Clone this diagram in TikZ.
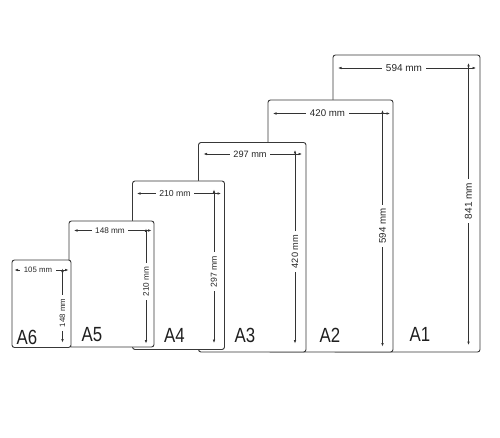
\documentclass[tikz,border=0pt]{standalone}
\usepackage{fontspec}
\setmainfont{Liberation Sans}
\usetikzlibrary{arrows.meta}

\begin{document}
\begin{tikzpicture}[x=1pt,y=-1pt]
    \tikzset{sheet/.style = {draw=black!78,fill=white,line width=0.9pt,rounded corners=2.5pt}}
    \tikzset{dim/.style = {draw=black!80,line width=0.6pt,{Latex[length=3.5pt,width=2.6pt]}-{Latex[length=3.5pt,width=2.6pt]}}}
    \tikzset{dimlabel/.style = {fill=white,inner xsep=3.5pt,inner ysep=0.5pt,text=black!85,font=\fontsize{#1}{#1}\selectfont}}
    \tikzset{sizename/.style = {inner sep=0pt,text=black!88,font=\fontsize{20.5}{20.5}\selectfont}}
    \useasboundingbox (0,0) rectangle (500,438);
    % A1
    \draw[sheet] (333,55) rectangle (480,352);
    \draw[dim] (338,68) -- (476,68);
    \draw[dim] (468.5,63) -- (468.5,345);
    \node[dimlabel=10] (a1w) at (404,68) {594 mm};
    \node[dimlabel=10,rotate=90] (a1h) at (468.5,201) {841 mm};
    \node[sizename] (a1) at (420,334) {\scalebox{0.82}[1]{A1}};
    % A2
    \draw[sheet] (268,100) rectangle (393,352);
    \draw[dim] (273,113.5) -- (390,113.5);
    \draw[dim] (382.5,110) -- (382.5,346.5);
    \node[dimlabel=9.7] (a2w) at (327.5,113.5) {420 mm};
    \node[dimlabel=9.7,rotate=90] (a2h) at (382.5,226) {594 mm};
    \node[sizename] (a2) at (330,335) {\scalebox{0.82}[1]{A2}};
    % A3
    \draw[sheet] (198.5,142.5) rectangle (306,352);
    \draw[dim] (203.5,154) -- (302,154);
    \draw[dim] (295,150) -- (295,343.5);
    \node[dimlabel=9.2] (a3w) at (250,154) {297 mm};
    \node[dimlabel=9.2,rotate=90] (a3h) at (295,251.5) {420 mm};
    \node[sizename] (a3) at (245,335.5) {\scalebox{0.82}[1]{A3}};
    % A4
    \draw[sheet] (132.5,181) rectangle (224.5,349.5);
    \draw[dim] (137,193.5) -- (221,193.5);
    \draw[dim] (214,189.5) -- (214,343);
    \node[dimlabel=8.7] (a4w) at (175,193.5) {210 mm};
    \node[dimlabel=8.7,rotate=90] (a4h) at (214,271.5) {297 mm};
    \node[sizename] (a4) at (174.5,335.5) {\scalebox{0.82}[1]{A4}};
    % A5
    \draw[sheet] (69,221) rectangle (154,347);
    \draw[dim] (74,230.5) -- (151.5,230.5);
    \draw[dim] (146,228.5) -- (146,343.5);
    \node[dimlabel=8.2] (a5w) at (110,230.5) {148 mm};
    \node[dimlabel=8.2,rotate=90] (a5h) at (146,281.5) {210 mm};
    \node[sizename] (a5) at (92,334.5) {\scalebox{0.82}[1]{A5}};
    % A6
    \draw[sheet] (12,260) rectangle (71,347.5);
    \draw[dim] (14.5,270) -- (68.5,270);
    \draw[dim] (62.5,268.5) -- (62.5,342.5);
    \node[dimlabel=7.8] (a6w) at (38,270) {105 mm};
    \node[dimlabel=7.8,rotate=90] (a6h) at (62.5,313) {148 mm};
    \node[sizename] (a6) at (27,337) {\scalebox{0.82}[1]{A6}};
\end{tikzpicture}
\end{document}
